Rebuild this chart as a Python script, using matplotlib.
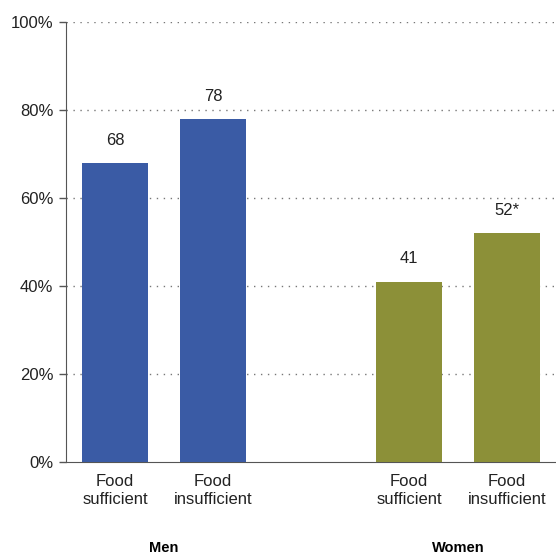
import matplotlib
matplotlib.use("Agg")
import matplotlib.pyplot as plt

plt.rcParams['font.family'] = ['Liberation Sans', 'DejaVu Sans']

# values (percent)
groups = ["Men", "Women"]
categories = ["Food\nsufficient", "Food\ninsufficient", "Food\nsufficient", "Food\ninsufficient"]
values = [68, 78, 41, 52]
value_labels = ["68", "78", "41", "52*"]
positions = [0, 1, 3, 4]
colors = ["#3A5BA5", "#3A5BA5", "#8C9038", "#8C9038"]
yticks = [0, 20, 40, 60, 80, 100]

fig = plt.figure(figsize=(5.56, 5.54), dpi=100)
ax = fig.add_axes([66/556, 92/554, 489/556, 440/554])

ax.bar(positions, values, width=0.67, color=colors, zorder=3)

for x, v, lab in zip(positions, values, value_labels):
    ax.annotate(lab, (x, v), xytext=(0, 11), textcoords="offset points",
                ha="center", va="bottom", fontsize=12, color="#222222")

ax.set_xlim(-0.5, 4.49)
ax.set_ylim(0, 100)
ax.set_yticks(yticks)
ax.set_yticklabels([f"{t}%" for t in yticks], fontsize=12, color="#222222")
ax.set_xticks(positions)
ax.set_xticklabels(categories, fontsize=12, color="#222222", linespacing=1.2)
ax.tick_params(axis="x", length=0, pad=9)
ax.tick_params(axis="y", length=5, width=1, color="#555555", pad=4)

for t in yticks[1:]:
    ax.axhline(t, color="#777777", linestyle=(0, (1, 4)), linewidth=1, zorder=1)

for s in ["top", "right"]:
    ax.spines[s].set_visible(False)
ax.spines["left"].set_color("#555555")
ax.spines["bottom"].set_color("#555555")

# group names below the category labels
for g, x in zip(groups, [0.5, 3.5]):
    ax.text(x, -19.5, g, ha="center", va="center", fontsize=10.5, fontweight="bold",
            transform=ax.transData, clip_on=False)

fig.savefig("out.png", dpi=100)
